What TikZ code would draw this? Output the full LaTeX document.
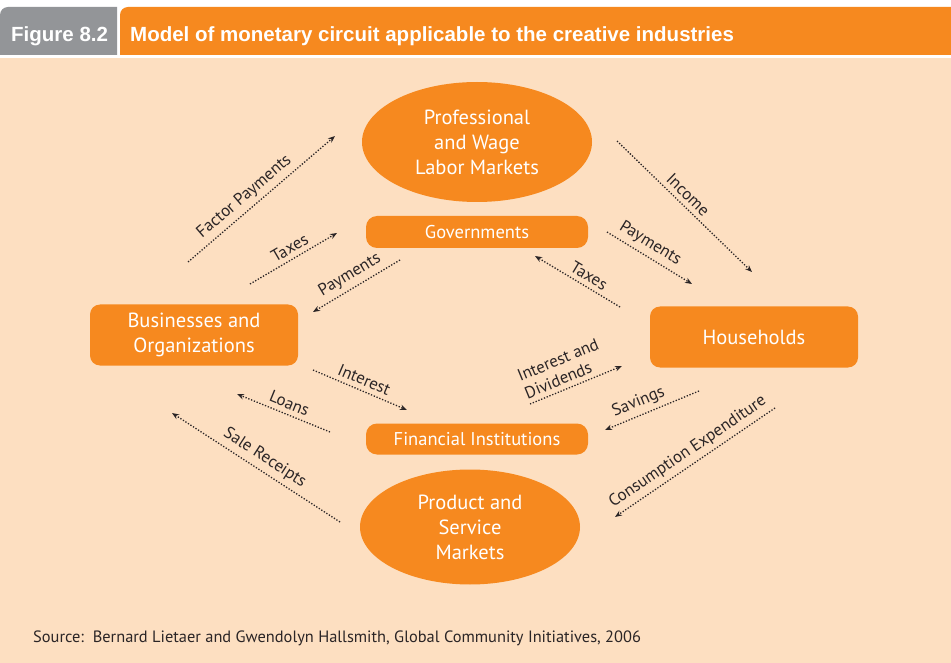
\documentclass[tikz,border=0pt]{standalone}
\usepackage{fontspec}
\setmainfont{PT Sans}
\newfontfamily\headfont{Liberation Sans}
\usetikzlibrary{shapes.geometric,arrows.meta}
\definecolor{orng}{HTML}{F6891F}
\definecolor{peach}{HTML}{FDDFC1}
\definecolor{tabgray}{HTML}{939598}
\definecolor{ink}{HTML}{2B2526}
\tikzset{
  oval/.style={ellipse,fill=orng,draw=none,text=white,align=center,inner sep=0pt,font=\fontsize{20.5}{25}\selectfont},
  rbox/.style={rectangle,rounded corners=10pt,fill=orng,draw=none,text=white,align=center,inner sep=0pt,font=\fontsize{20.5}{25}\selectfont},
  sbox/.style={rectangle,rounded corners=11pt,fill=orng,draw=none,text=white,inner sep=0pt,font=\fontsize{18.5}{20}\selectfont},
  flow/.style={ink,line width=1.3pt,dash pattern=on 1.3pt off 1.7pt,-{Stealth[length=7pt,width=5.5pt]}},
  lbl/.style={sloped,above,text=ink,font=\fontsize{16.8}{19}\selectfont,inner sep=4.5pt},
  hdr/.style={anchor=west,text=white,font=\headfont\bfseries\fontsize{20.5}{22}\selectfont,inner sep=0pt}
}
\begin{document}
\begin{tikzpicture}[x=1pt,y=-1pt]
\useasboundingbox (0,0) rectangle (951,663);
\fill[white] (0,0) rectangle (951,663);
\fill[peach] (0,58) rectangle (951,663);
\fill[tabgray] (0,55) -- (0,15) arc[start angle=180,end angle=270,radius=8] -- (117,7) -- (117,55) -- cycle;
\fill[orng] (120,55) -- (120,15) arc[start angle=180,end angle=270,radius=8] -- (951,7) -- (951,55) -- cycle;
\node[hdr] (fig) at (11,36) {Figure 8.2};
\node[hdr] (title) at (130,36) {Model of monetary circuit applicable to the creative industries};

\node[oval,minimum width=230pt,minimum height=120pt] (labor) at (477,142) {Professional\\and Wage\\Labor Markets};
\node[oval,minimum width=220pt,minimum height=115pt] (prod) at (470,527) {Product and\\Service\\Markets};
\node[sbox,minimum width=222pt,minimum height=32pt] (gov) at (477,232) {Governments};
\node[sbox,minimum width=222pt,minimum height=31pt] (fin) at (477,439) {Financial Institutions};
\node[rbox,minimum width=208pt,minimum height=61pt] (bus) at (194,335) {Businesses and\\Organizations};
\node[rbox,minimum width=208pt,minimum height=61pt] (hh) at (754,337) {Households};

\coordinate (fp1) at (188,262); \coordinate (fp2) at (335,136);
\coordinate (tl1) at (250,284); \coordinate (tl2) at (337,233);
\coordinate (pl1) at (400,260); \coordinate (pl2) at (313,312);
\coordinate (in1) at (617,141); \coordinate (in2) at (752,272);
\coordinate (pr1) at (607,232); \coordinate (pr2) at (692,284);
\coordinate (tr1) at (620,307); \coordinate (tr2) at (535,256);
\coordinate (it1) at (313,370); \coordinate (it2) at (407,410);
\coordinate (lo1) at (330,432); \coordinate (lo2) at (237,394);
\coordinate (sr1) at (340,522); \coordinate (sr2) at (172,413);
\coordinate (id1) at (530,404); \coordinate (id2) at (622,366);
\coordinate (sv1) at (699,391); \coordinate (sv2) at (605,430);
\coordinate (ce1) at (775,408); \coordinate (ce2) at (615,517);

\draw[flow] (fp1) -- node[lbl,pos=0.44] {Factor Payments} (fp2);
\draw[flow] (tl1) -- node[lbl,pos=0.52] {Taxes} (tl2);
\draw[flow] (pl1) -- node[lbl,pos=0.5] {Payments} (pl2);
\draw[flow] (in1) -- node[lbl,pos=0.47] {Income} (in2);
\draw[flow] (pr1) -- node[lbl,pos=0.43] {Payments} (pr2);
\draw[flow] (tr1) -- node[lbl,pos=0.43] {Taxes} (tr2);
\draw[flow] (it1) -- node[lbl,pos=0.5] {Interest} (it2);
\draw[flow] (lo1) -- node[lbl,pos=0.48] {Loans} (lo2);
\draw[flow] (sr1) -- node[lbl,pos=0.49] {Sale Receipts} (sr2);
\draw[flow] (id1) -- node[lbl,pos=0.43,align=left] {Interest and\\Dividends} (id2);
\draw[flow] (sv1) -- node[lbl,pos=0.59] {Savings} (sv2);
\draw[flow] (ce1) -- node[lbl,pos=0.5] {Consumption Expenditure} (ce2);

\node[anchor=base west,text=ink,font=\fontsize{16.4}{19}\selectfont,inner sep=0pt] (src) at (33,642) {Source:\ \ Bernard Lietaer and Gwendolyn Hallsmith, Global Community Initiatives, 2006};
\end{tikzpicture}
\end{document}
